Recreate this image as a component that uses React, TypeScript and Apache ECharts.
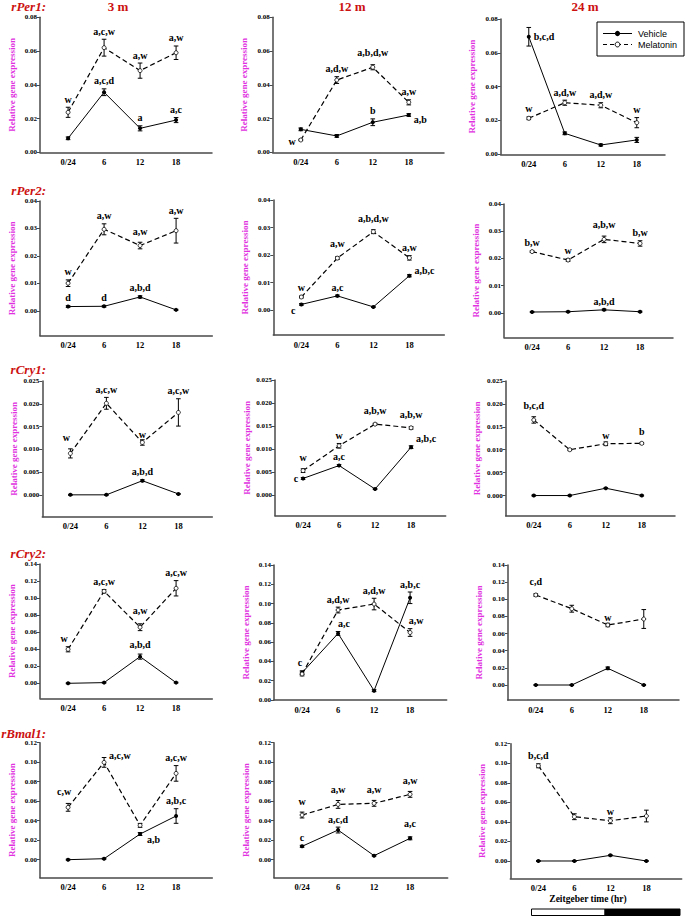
import React, { useEffect, useRef } from "react";
import * as echarts from "echarts";

// ---------- labels ----------
const timeLabels = ["0/24", "6", "12", "18"];
const ageLabels = ["3 m", "12 m", "24 m"];
const geneLabels = ["rPer1:", "rPer2:", "rCry1:", "rCry2:", "rBmal1:"];
const seriesNames = ["Vehicle", "Melatonin"];
const yAxisTitle = "Relative gene expression";
const xAxisTitle = "Zeitgeber time (hr)";

// ---------- data (rows: 3 m, 12 m, 24 m; columns: ZT 0/24, 6, 12, 18) ----------
const per1Vehicle = [[0.0083, 0.0356, 0.0142, 0.0191], [0.0136, 0.0097, 0.0178, 0.0221], [0.0695, 0.0124, 0.0055, 0.0085]];
const per1VehicleErr = [[0.0008, 0.002, 0.0015, 0.0015], [0.0008, 0.0008, 0.002, 0.0008], [0.0055, 0.0008, 0.0006, 0.0015]];
const per1Melatonin = [[0.0237, 0.062, 0.0484, 0.059], [0.0073, 0.0428, 0.0504, 0.0296], [0.0213, 0.0305, 0.029, 0.0187]];
const per1MelatoninErr = [[0.003, 0.005, 0.0045, 0.004], [0.0005, 0.002, 0.0015, 0.0015], [0.0008, 0.0015, 0.0015, 0.003]];

const per2Vehicle = [[0.0016, 0.0017, 0.0051, 0.0004], [0.0021, 0.0052, 0.0012, 0.0125], [0.0003, 0.0004, 0.0011, 0.0004]];
const per2VehicleErr = [[0.0003, 0.0003, 0.0004, 0.0002], [0.0003, 0.0003, 0.0002, 0.0004], [0.0002, 0.0002, 0.0003, 0.0002]];
const per2Melatonin = [[0.0101, 0.0297, 0.0238, 0.0292], [0.0048, 0.0189, 0.0285, 0.019], [0.0225, 0.0194, 0.027, 0.0255]];
const per2MelatoninErr = [[0.0012, 0.002, 0.0012, 0.0045], [0.0004, 0.0005, 0.0007, 0.0008], [0.0003, 0.0005, 0.0012, 0.001]];

const cry1Vehicle = [[0.0, 0.0, 0.0031, 0.0002], [0.0036, 0.0064, 0.0013, 0.0104], [0.0, 0.0, 0.0016, 0.0]];
const cry1VehicleErr = [[0.0001, 0.0001, 0.0002, 0.0001], [0.0002, 0.0002, 0.0001, 0.0003], [0.0001, 0.0001, 0.0001, 0.0001]];
const cry1Melatonin = [[0.0091, 0.0201, 0.0115, 0.0181], [0.0053, 0.0107, 0.0154, 0.0146], [0.0165, 0.01, 0.0113, 0.0114]];
const cry1MelatoninErr = [[0.001, 0.0013, 0.0006, 0.003], [0.0004, 0.0005, 0.0002, 0.0003], [0.0007, 0.0002, 0.0004, 0.0002]];

const cry2Vehicle = [[0.0, 0.0008, 0.0313, 0.0008], [0.0283, 0.069, 0.0097, 0.106], [0.0, 0.0, 0.0195, 0.0]];
const cry2VehicleErr = [[0.0005, 0.0005, 0.003, 0.0005], [0.002, 0.002, 0.001, 0.006], [0.0005, 0.0005, 0.0015, 0.0005]];
const cry2Melatonin = [[0.0399, 0.108, 0.0658, 0.1115], [0.027, 0.0933, 0.0995, 0.07], [0.105, 0.089, 0.07, 0.077]];
const cry2MelatoninErr = [[0.003, 0.002, 0.004, 0.009], [0.002, 0.003, 0.006, 0.004], [0.0015, 0.004, 0.002, 0.011]];

const bmal1Vehicle = [[0.0, 0.001, 0.0263, 0.0448], [0.0137, 0.0304, 0.0041, 0.0219], [0.0, 0.0, 0.0058, 0.0]];
const bmal1VehicleErr = [[0.0005, 0.0005, 0.0015, 0.0075], [0.001, 0.003, 0.0005, 0.0015], [0.0005, 0.0005, 0.0005, 0.0005]];
const bmal1Melatonin = [[0.0537, 0.0998, 0.0352, 0.0885], [0.0458, 0.0567, 0.0578, 0.067], [0.0974, 0.0453, 0.0412, 0.046]];
const bmal1MelatoninErr = [[0.004, 0.005, 0.002, 0.008], [0.003, 0.004, 0.003, 0.003], [0.002, 0.003, 0.003, 0.006]];

// significance letters: [series (v = vehicle, m = melatonin), time index, text, side, dx, dy]
const per1Notes = [
  [["m", 0, "w", "top"], ["m", 1, "a,c,w", "top"], ["m", 2, "a,w", "top"], ["m", 3, "a,w", "top"], ["v", 1, "a,c,d", "top"], ["v", 2, "a", "top"], ["v", 3, "a,c", "top"]],
  [["m", 0, "w", "left", 0, 2], ["m", 1, "a,d,w", "top"], ["m", 2, "a,b,d,w", "top", 0, -4], ["m", 3, "a,w", "top"], ["v", 2, "b", "top"], ["v", 3, "a,b", "right", 0, 4]],
  [["v", 0, "b,c,d", "right"], ["m", 0, "w", "top"], ["m", 1, "a,d,w", "top"], ["m", 2, "a,d,w", "top"], ["m", 3, "w", "top"]],
];
const per2Notes = [
  [["m", 0, "w", "top"], ["m", 1, "a,w", "top"], ["m", 2, "a,w", "top", 0, -3], ["m", 3, "a,w", "top"], ["v", 0, "d", "top"], ["v", 1, "d", "top"], ["v", 2, "a,b,d", "top"]],
  [["m", 0, "w", "top"], ["v", 0, "c", "left", -1, 6], ["m", 1, "a,w", "top", 0, -5], ["v", 1, "a,c", "top"], ["m", 2, "a,b,d,w", "top", 0, -3], ["m", 3, "a,w", "top"], ["v", 3, "a,b,c", "right", 0, -5]],
  [["m", 0, "b,w", "top"], ["m", 1, "w", "top"], ["m", 2, "a,b,w", "top", 0, -4], ["m", 3, "b,w", "top"], ["v", 2, "a,b,d", "top"]],
];
const cry1Notes = [
  [["m", 0, "w", "top", -4, -3], ["m", 1, "a,c,w", "top"], ["m", 2, "w", "top", 0, 3], ["m", 3, "a,c,w", "top"], ["v", 2, "a,b,d", "top"]],
  [["m", 0, "w", "top", 0, -3], ["v", 0, "c", "left"], ["m", 1, "w", "top"], ["v", 1, "a,c", "top"], ["m", 2, "a,b,w", "top", 0, -5], ["m", 3, "a,b,w", "top", 0, -4], ["v", 3, "a,b,c", "right", 0, -9]],
  [["m", 0, "b,c,d", "top", 0, -3], ["m", 2, "w", "top", 0, 2], ["m", 3, "b", "top", 0, -3]],
];
const cry2Notes = [
  [["m", 0, "w", "top", -4, 0], ["m", 1, "a,c,w", "top"], ["m", 2, "a,w", "top", 0, -5], ["m", 3, "a,c,w", "top"], ["v", 2, "a,b,d", "top", 0, -2]],
  [["v", 0, "c", "top", -2, 0], ["m", 1, "a,d,w", "top"], ["v", 1, "a,c", "top", 6, 0], ["m", 2, "a,d,w", "top"], ["v", 3, "a,b,c", "top"], ["m", 3, "a,w", "top", 6, 0]],
  [["m", 0, "c,d", "top", 0, -4], ["m", 2, "w", "top", 0, 2]],
];
const bmal1Notes = [
  [["m", 0, "c,w", "top", -4, -4], ["m", 1, "a,c,w", "right", 0, -7], ["m", 3, "a,c,w", "top"], ["v", 3, "a,b,c", "top"], ["v", 2, "a,b", "right", 2, 5]],
  [["m", 0, "w", "top", 0, -3], ["v", 0, "c", "top"], ["m", 1, "a,w", "top", 0, -3], ["v", 1, "a,c,d", "top"], ["m", 2, "a,w", "top", 0, -3], ["m", 3, "a,w", "top", 0, -3], ["v", 3, "a,c", "top", 0, -5]],
  [["m", 0, "b,c,d", "top"], ["m", 2, "w", "top", 0, 2]],
];

// y axis scale per gene
const yMax = [0.08, 0.04, 0.025, 0.14, 0.12];
const yStep = [0.02, 0.01, 0.005, 0.02, 0.02];
const yDecimals = [2, 2, 3, 2, 2];

// ---------- layout ----------
const yMinByPanel = [
  [0, 0, 0],
  [-0.009, -0.009, -0.009],
  [-0.0048, -0.0045, -0.0044],
  [-0.0176, 0, -0.0175],
  [-0.0185, -0.0185, -0.0177],
];
// [left, top, right, bottom] of each plot area
const panelBoxes = [
  [[40, 17.3, 212, 152.3], [272.7, 17.3, 444, 152.3], [500.7, 19, 665, 154.3]],
  [[40, 201, 212.3, 335.7], [273.3, 200, 444.3, 335], [504, 204, 673, 337.3]],
  [[42.3, 381, 212.3, 516.7], [275, 380, 445.7, 515.7], [505.7, 381, 675, 515.7]],
  [[40, 564, 212.3, 698.3], [274, 565, 446.7, 700], [507.7, 565, 679, 700]],
  [[40, 742.7, 212.3, 877.7], [274, 742.7, 447.7, 877.7], [510.3, 743.7, 681.7, 878.3]],
];
const geneTitleY = [6.5, 190, 369, 553, 733];
const ageTitleX = [118, 352, 585];
const X_MIN = -0.78;
const CAT_STEP = 36;

const SERIF = '"Liberation Serif", "Times New Roman", serif';
const SANS = '"Liberation Sans", Arial, sans-serif';
const AXIS_COLOR = "#4a4a4a";
const TITLE_RED = "#cc1111";
const NAME_MAGENTA = "#e030e0";

const genes = [
  { veh: per1Vehicle, vehErr: per1VehicleErr, mel: per1Melatonin, melErr: per1MelatoninErr, notes: per1Notes },
  { veh: per2Vehicle, vehErr: per2VehicleErr, mel: per2Melatonin, melErr: per2MelatoninErr, notes: per2Notes },
  { veh: cry1Vehicle, vehErr: cry1VehicleErr, mel: cry1Melatonin, melErr: cry1MelatoninErr, notes: cry1Notes },
  { veh: cry2Vehicle, vehErr: cry2VehicleErr, mel: cry2Melatonin, melErr: cry2MelatoninErr, notes: cry2Notes },
  { veh: bmal1Vehicle, vehErr: bmal1VehicleErr, mel: bmal1Melatonin, melErr: bmal1MelatoninErr, notes: bmal1Notes },
];

function textStyle(text: string, font: string, align: string, vAlign: string, fill = "#000") {
  return { text, font, fill, align, verticalAlign: vAlign, textAlign: align, textVerticalAlign: vAlign };
}

function buildOption() {
  const grid: any[] = [];
  const xAxis: any[] = [];
  const yAxis: any[] = [];
  const series: any[] = [];

  genes.forEach((g, gi) => {
    for (let ci = 0; ci < 3; ci++) {
      const k = gi * 3 + ci;
      const [left, top, right, bottom] = panelBoxes[gi][ci];
      grid.push({ left, top, width: right - left, height: bottom - top });
      xAxis.push({
        type: "value",
        gridIndex: k,
        min: X_MIN,
        max: X_MIN + (right - left) / CAT_STEP,
        axisLine: { show: true, onZero: false, lineStyle: { color: AXIS_COLOR, width: 1.5 } },
        axisTick: { show: false },
        splitLine: { show: false },
        axisLabel: {
          customValues: [0, 1, 2, 3],
          formatter: (v: number) => timeLabels[Math.round(v)] ?? "",
          fontFamily: SERIF,
          fontWeight: "bold",
          fontSize: 8.5,
          color: "#000",
          margin: 5,
        },
      });
      const ticks: number[] = [];
      const n = Math.round(yMax[gi] / yStep[gi]);
      for (let i = 0; i <= n; i++) ticks.push(+(i * yStep[gi]).toFixed(4));
      yAxis.push({
        type: "value",
        gridIndex: k,
        min: yMinByPanel[gi][ci],
        max: yMax[gi],
        axisLine: { show: true, onZero: false, lineStyle: { color: AXIS_COLOR, width: 1.5 } },
        axisTick: { show: true, customValues: ticks, length: 3, lineStyle: { color: AXIS_COLOR, width: 1 } },
        axisLabel: {
          customValues: ticks,
          formatter: (v: number) => v.toFixed(yDecimals[gi]),
          fontFamily: SERIF,
          fontWeight: "bold",
          fontSize: 7,
          color: "#000",
          margin: 3,
        },
        splitLine: { show: false },
        name: yAxisTitle,
        nameLocation: "middle",
        nameGap: 24,
        nameTextStyle: { color: NAME_MAGENTA, fontFamily: SERIF, fontWeight: "bold", fontSize: 9 },
      });

      const veh = g.veh[ci];
      const vehErr = g.vehErr[ci];
      const mel = g.mel[ci];
      const melErr = g.melErr[ci];

      // error bars
      const bars: number[][] = [];
      veh.forEach((v, i) => bars.push([i, v - vehErr[i], v + vehErr[i]]));
      mel.forEach((v, i) => bars.push([i, v - melErr[i], v + melErr[i]]));
      series.push({
        type: "custom",
        xAxisIndex: k,
        yAxisIndex: k,
        silent: true,
        z: 2,
        encode: { x: 0, y: [1, 2] },
        data: bars,
        renderItem: (_p: any, api: any) => {
          const a = api.coord([api.value(0), api.value(1)]);
          const b = api.coord([api.value(0), api.value(2)]);
          const w = 2.3;
          const st = { stroke: "#000", lineWidth: 1 };
          return {
            type: "group",
            children: [
              { type: "line", shape: { x1: a[0], y1: a[1], x2: b[0], y2: b[1] }, style: st },
              { type: "line", shape: { x1: a[0] - w, y1: a[1], x2: a[0] + w, y2: a[1] }, style: st },
              { type: "line", shape: { x1: b[0] - w, y1: b[1], x2: b[0] + w, y2: b[1] }, style: st },
            ],
          };
        },
      });

      series.push({
        type: "line",
        name: seriesNames[0],
        xAxisIndex: k,
        yAxisIndex: k,
        silent: true,
        z: 3,
        data: veh.map((v, i) => [i, v]),
        symbol: "circle",
        symbolSize: 4,
        lineStyle: { color: "#000", width: 1 },
        itemStyle: { color: "#000" },
      });
      series.push({
        type: "line",
        name: seriesNames[1],
        xAxisIndex: k,
        yAxisIndex: k,
        silent: true,
        z: 3,
        data: mel.map((v, i) => [i, v]),
        symbol: "circle",
        symbolSize: 4,
        lineStyle: { color: "#000", width: 1.2, type: [5, 3] },
        itemStyle: { color: "#fff", borderColor: "#000", borderWidth: 0.8 },
      });

      // significance letters
      const notes = g.notes[ci] as any[];
      const anchors = notes.map((nt) => {
        const [s, i, , side] = nt;
        const val = s === "v" ? veh[i] : mel[i];
        const err = s === "v" ? vehErr[i] : melErr[i];
        const y = side === "top" ? val + err : side === "bottom" ? val - err : val;
        return [i, y];
      });
      series.push({
        type: "custom",
        xAxisIndex: k,
        yAxisIndex: k,
        silent: true,
        z: 4,
        encode: { x: 0, y: 1 },
        data: anchors,
        renderItem: (p: any, api: any) => {
          const nt = notes[p.dataIndex];
          const [, , text, side, dx = 0, dy = 0] = nt;
          const pt = api.coord([api.value(0), api.value(1)]);
          let x = pt[0] + dx;
          let y = pt[1] + dy;
          let align = "center";
          let vAlign = "middle";
          if (side === "top") { y -= 3; vAlign = "bottom"; }
          else if (side === "bottom") { y += 3; vAlign = "top"; }
          else if (side === "right") { x += 5; align = "left"; }
          else if (side === "left") { x -= 5; align = "right"; }
          return {
            type: "text",
            x,
            y,
            style: textStyle(text, `bold 10px ${SERIF}`, align, vAlign),
          };
        },
      });
    }
  });

  const graphic: any[] = [];
  geneLabels.forEach((t, i) => {
    graphic.push({ type: "text", x: 46, y: geneTitleY[i], style: textStyle(t, `italic bold 13px ${SERIF}`, "right", "middle", TITLE_RED) });
  });
  ageLabels.forEach((t, i) => {
    graphic.push({ type: "text", x: ageTitleX[i], y: 6.5, style: textStyle(t, `bold 13px ${SERIF}`, "center", "middle", TITLE_RED) });
  });
  // legend
  graphic.push({ type: "rect", shape: { x: 597, y: 22, width: 87, height: 34 }, style: { fill: "#fff", stroke: "#000", lineWidth: 1 } });
  graphic.push({ type: "line", shape: { x1: 603, y1: 33.5, x2: 632, y2: 33.5 }, style: { stroke: "#000", lineWidth: 1 } });
  graphic.push({ type: "circle", shape: { cx: 617.5, cy: 33.5, r: 2.6 }, style: { fill: "#000" } });
  graphic.push({ type: "text", x: 638, y: 33.5, style: textStyle(seriesNames[0], `9px ${SANS}`, "left", "middle") });
  graphic.push({ type: "line", shape: { x1: 603, y1: 44.5, x2: 632, y2: 44.5 }, style: { stroke: "#000", lineWidth: 1.2, lineDash: [4, 3] } });
  graphic.push({ type: "circle", shape: { cx: 617.5, cy: 44.5, r: 2.4 }, style: { fill: "#fff", stroke: "#000", lineWidth: 1 } });
  graphic.push({ type: "text", x: 638, y: 44.5, style: textStyle(seriesNames[1], `9px ${SANS}`, "left", "middle") });
  // x axis title and light/dark bar
  graphic.push({ type: "text", x: 588, y: 899, style: textStyle(xAxisTitle, `bold 9.5px ${SERIF}`, "center", "middle") });
  graphic.push({ type: "rect", shape: { x: 531.5, y: 909, width: 73.5, height: 6.5 }, style: { fill: "#fff", stroke: "#000", lineWidth: 1 } });
  graphic.push({ type: "rect", shape: { x: 605, y: 909, width: 75, height: 6.5 }, style: { fill: "#000", stroke: "#000", lineWidth: 1 } });

  return {
    animation: false,
    backgroundColor: "#fff",
    grid,
    xAxis,
    yAxis,
    series,
    graphic,
  };
}

export default function App() {
  const ref = useRef<HTMLDivElement>(null);
  useEffect(() => {
    const chart = echarts.init(ref.current!, null, { renderer: "svg" });
    chart.setOption(buildOption() as any);
    return () => chart.dispose();
  }, []);
  return (
    <div
      ref={ref}
      style={{ position: "absolute", left: 0, top: 0, width: 685, height: 916, background: "#fff" }}
    />
  );
}
